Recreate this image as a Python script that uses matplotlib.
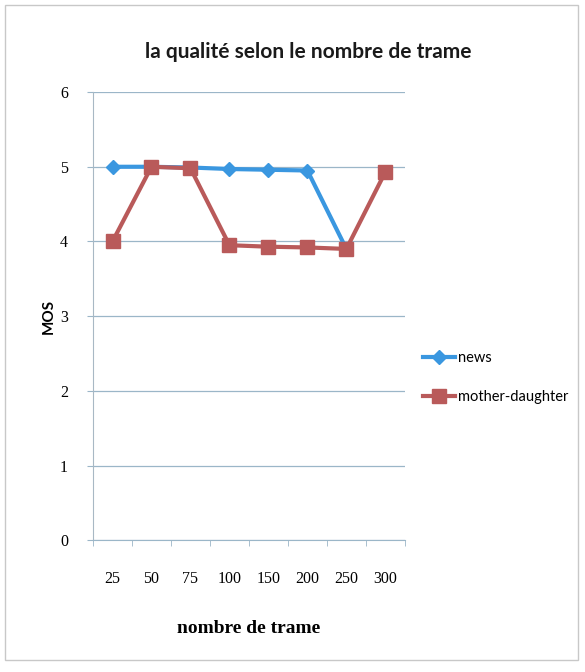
import matplotlib
matplotlib.use('Agg')
import matplotlib.pyplot as plt
from matplotlib.patches import Rectangle

categories = ['25', '50', '75', '100', '150', '200', '250', '300']
news = [5.0, 5.0, 4.99, 4.97, 4.96, 4.95, 3.9]
mother_daughter = [4.0, 5.0, 4.98, 3.95, 3.93, 3.92, 3.9, 4.93]

blue = '#3a97e0'
red = '#b95a5a'
grid_col = '#9bb6c8'

fig = plt.figure(figsize=(5.85, 6.72), dpi=100)
ax = fig.add_axes([0.159, 0.196, 0.533, 0.667])

x_news = list(range(len(news)))
x_md = list(range(len(mother_daughter)))
ax.plot(x_news, news, color=blue, lw=3, marker='D', ms=7,
        mec=blue, mfc=blue, label='news', zorder=3)
ax.plot(x_md, mother_daughter, color=red, lw=3, marker='s', ms=10,
        mec=red, mfc=red, label='mother-daughter', zorder=4)

ax.set_xlim(-0.5, len(categories) - 0.5)
ax.set_ylim(0, 6)
ax.set_yticks(range(0, 7))
ax.set_xticks(range(len(categories)))
ax.set_xticklabels(categories, family='Liberation Serif', fontsize=11.5)
ax.set_xticks([i - 0.5 for i in range(len(categories) + 1)], minor=True)
ax.tick_params(axis='x', which='major', length=0, pad=22)
ax.tick_params(axis='x', which='minor', length=4, color=grid_col, direction='out')
ax.tick_params(axis='y', length=4, color=grid_col, direction='out', pad=14)
for lab in ax.get_yticklabels():
    lab.set_family('Liberation Serif')
    lab.set_fontsize(11.5)

ax.grid(axis='y', color=grid_col, lw=0.9)
ax.set_axisbelow(True)
for side in ['top', 'right']:
    ax.spines[side].set_visible(False)
ax.spines['left'].set_color('#a8b8c4')
ax.spines['bottom'].set_color(grid_col)

ax.set_ylabel('MOS', family='Lato', fontsize=11, fontweight='bold', labelpad=3)
ax.set_xlabel('nombre de trame', family='Liberation Serif', fontsize=14,
              fontweight='bold', labelpad=24)

fig.text(0.527, 0.922, 'la qualité selon le nombre de trame',
         ha='center', va='center', fontsize=15, fontweight='bold',
         family='Lato', color='#1a1a1a')

fig.legend(loc='center left', bbox_to_anchor=(0.70, 0.438), frameon=False,
           prop={'family': 'Lato', 'size': 10.5},
           handlelength=2.2, labelspacing=1.7, handletextpad=0.2)

fig.patches.append(Rectangle((0.008, 0.018), 0.98, 0.975, transform=fig.transFigure,
                             fill=False, ec='#c8c8c8', lw=1))

fig.savefig('out.png', dpi=100)
